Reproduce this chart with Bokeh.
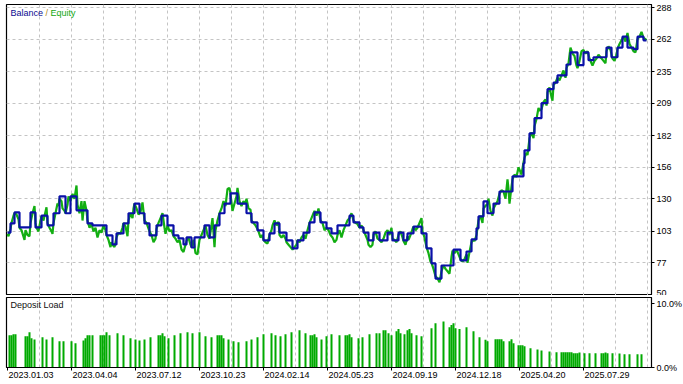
from bokeh.plotting import figure
from bokeh.layouts import column
from bokeh.models import Range1d, FixedTicker, Label, Grid
from bokeh.embed import file_html
from bokeh.resources import INLINE

# ---------------- data (x = deal number) ----------------
bal_deal = [0, 3, 7, 12, 23, 28, 34, 40, 46, 52, 58, 63, 69, 80, 85, 99, 105, 109, 116, 121,
            127, 132, 137, 142, 149, 154, 160, 166, 171, 176, 179, 184, 187, 197, 202, 207, 212, 217, 223, 230,
            239, 244, 250, 256, 262, 267, 272, 279, 285, 290, 296, 302, 307, 313, 319, 324, 330, 342, 346, 352,
            356, 361, 366, 372, 380, 385, 391, 396, 400, 406, 414, 419, 424, 428, 434, 446, 453, 459, 464, 469,
            471, 476, 480, 486, 492, 505, 516, 517, 522, 527, 534, 540, 546, 550, 559, 563, 570, 576, 581, 586,
            599, 604, 610, 615, 620, 626, 630, 636, 639]
balance = [102, 109.6, 118.7, 106.3, 118.7, 106.3, 116, 108, 118, 132, 118, 132, 120.4, 109.6, 108, 99.7, 92.2, 101.3, 109.6, 118,
           126, 118, 109.6, 99.7, 108, 116, 108, 99.7, 97.2, 92.2, 98, 89.7, 98, 108, 98, 108, 118, 126, 134.5, 126,
           118, 110.4, 103.8, 95.5, 101.3, 109.6, 102, 95.5, 89, 95.5, 102, 110.4, 118.7, 110.4, 105.5, 101.3, 108, 116, 110.4, 106.3,
           102, 95.5, 102, 95.5, 102, 95.5, 102, 95.5, 101.3, 107, 101.3, 89, 76.5, 64, 74.8, 88, 79, 86.4, 96.4, 105.5,
           115.4, 127.8, 118, 126, 136, 148.5, 159.3, 170, 184, 196.6, 209, 220.6, 226, 232, 241, 251, 240.4, 251, 244.6, 247,
           255, 247, 255, 264, 255, 253.7, 264, 261, 261]

eq_deal = [0, 1, 3, 4, 6, 7, 9, 11, 12, 14, 17, 18, 20, 22, 23, 25, 27, 28, 29, 31,
           33, 34, 36, 39, 40, 42, 44, 45, 46, 48, 50, 51, 52, 54, 55, 57, 58, 60, 61, 63,
           65, 67, 69, 70, 72, 74, 75, 77, 79, 80, 82, 84, 86, 88, 90, 92, 94, 96, 98, 99,
           101, 103, 104, 105, 107, 109, 111, 113, 115, 116, 118, 120, 121, 123, 125, 126, 127, 129, 131, 133,
           135, 137, 139, 142, 144, 146, 148, 149, 151, 153, 155, 157, 158, 160, 162, 164, 166, 168, 170, 172,
           174, 176, 178, 179, 181, 183, 184, 186, 188, 190, 192, 194, 196, 198, 200, 202, 204, 205, 207, 208,
           210, 212, 214, 216, 218, 220, 222, 223, 225, 227, 229, 230, 232, 234, 236, 238, 239, 241, 243, 244,
           246, 248, 250, 251, 253, 255, 256, 258, 260, 262, 264, 265, 267, 269, 271, 272, 274, 276, 278, 279,
           281, 283, 285, 287, 289, 290, 292, 294, 296, 298, 300, 302, 304, 306, 307, 309, 311, 313, 315, 317,
           319, 321, 323, 325, 327, 329, 330, 332, 334, 336, 338, 340, 342, 344, 346, 348, 350, 352, 354, 356,
           358, 360, 361, 363, 365, 366, 368, 370, 372, 374, 376, 378, 380, 382, 384, 385, 387, 389, 391, 393,
           395, 396, 398, 400, 401, 403, 405, 406, 408, 410, 412, 414, 415, 417, 419, 421, 423, 424, 426, 428,
           430, 432, 434, 436, 438, 440, 442, 444, 445, 447, 449, 451, 453, 455, 457, 459, 460, 462, 464, 466,
           467, 469, 470, 471, 473, 475, 476, 478, 480, 481, 483, 485, 486, 488, 490, 492, 494, 496, 498, 500,
           501, 502, 504, 505, 507, 509, 511, 513, 514, 516, 517, 519, 520, 522, 524, 526, 527, 529, 531, 532,
           534, 536, 538, 539, 540, 542, 544, 545, 546, 548, 550, 552, 554, 556, 558, 559, 561, 563, 565, 567,
           569, 570, 572, 574, 576, 578, 580, 582, 584, 585, 587, 589, 591, 593, 595, 598, 599, 601, 603, 605,
           607, 609, 610, 612, 614, 616, 618, 620, 622, 624, 626, 628, 630, 632, 634, 636, 638, 639]
equity = [101, 99, 105, 110, 116, 118, 117, 113, 106, 104, 96, 104, 100, 99, 110, 118, 124, 110, 106, 103,
          112, 116, 112, 123, 110, 106, 103, 101, 110, 118, 126, 124, 130, 128, 122, 120, 118, 125, 132, 128,
          134, 130, 141, 125, 118, 128, 112, 128, 120, 112, 106, 109, 103, 106, 98, 104, 102, 108, 104, 100,
          96, 90, 94, 92, 90, 98, 102, 101, 106, 110, 107, 99, 112, 118, 114, 122, 126, 122, 117, 119,
          127, 112, 110, 103, 100, 94, 97, 105, 110, 114, 118, 106, 101, 108, 103, 104, 99, 97, 94, 96,
          88, 86, 92, 95, 98, 92, 90, 96, 85, 84, 96, 100, 104, 108, 100, 97, 108, 114, 90, 104,
          112, 118, 122, 128, 124, 138, 139, 134, 120, 126, 132, 139, 128, 124, 128, 126, 130, 122, 121, 112,
          110, 108, 105, 103, 98, 100, 96, 94, 93, 100, 104, 108, 112, 108, 111, 100,
          98, 100, 97, 94, 92, 90, 88, 90, 92, 96, 94, 98, 100, 97, 104, 110, 114, 118, 120, 116,
          122, 112, 110, 104, 106, 104, 100, 98, 94, 96, 100, 104, 98, 104, 108, 112, 114, 118, 112, 110,
          109, 106, 108, 104, 100, 96, 92, 90, 92, 100, 103, 97, 96, 94, 97, 102, 104, 100, 106, 97,
          96, 94, 100, 103, 98, 95, 92, 99, 96, 100, 105, 107, 104, 106, 110, 114, 103, 98, 90, 85,
          78, 77, 72, 66, 64, 61, 70, 75, 72, 70, 68, 82, 87, 85, 88, 84, 80, 78, 80, 84,
          77, 86, 94, 96, 95, 100, 106, 112, 116, 110, 122, 124, 126, 130, 120, 116, 122, 125, 128, 134,
          137, 136, 130, 146, 138, 126, 140, 146, 150, 148, 156, 152, 150, 160, 164, 168, 166, 180, 185, 180,
          190, 196, 205, 203, 204, 210, 212, 207, 218, 222, 214, 211, 224, 226, 230, 228, 232, 236, 230, 238,
          242, 255, 250, 248, 240, 238, 244, 252, 253, 250, 252, 246, 242, 240, 244, 246, 249, 247, 245, 242,
          252, 256, 253, 246, 244, 249, 254, 258, 261, 264, 260, 267, 258, 255, 252, 251, 262, 264, 268, 263,
          262, 261]

load_deal = [2, 4, 6, 8, 18, 20, 22, 24, 27, 35, 39, 45, 52, 56, 64, 68, 76, 78, 80, 82,
             85, 93, 95, 97, 99, 102, 110, 116, 123, 128, 132, 137, 143, 151, 153, 155, 157, 161, 167, 173,
             180, 185, 192, 198, 204, 210, 212, 214, 216, 221, 226, 231, 239, 244, 250, 256, 264, 268, 273, 278,
             284, 292, 298, 303, 305, 307, 309, 314, 319, 324, 332, 338, 340, 342, 344, 351, 355, 362, 369, 372,
             376, 378, 381, 384, 389, 391, 393, 397, 400, 402, 404, 409, 414, 424, 428, 436, 442, 444, 446, 448,
             452, 459, 466, 472, 478, 480, 488, 490, 492, 494, 496, 502, 504, 506, 511, 513, 515, 517, 523, 530,
             534, 542, 549, 554, 556, 558, 560, 562, 564, 566, 568, 570, 572, 577, 582, 588, 594, 596, 598, 600,
             605, 612, 617, 622, 630, 634]
load_pct = [5.05, 5.05, 5.2, 5.2, 4.9, 4.9, 5.52, 4.58, 4.38, 4.74, 4.38, 4.74, 4.11, 4.11, 4.11, 3.8, 4.22, 4.58, 5.05, 5.05,
            5.05, 5.05, 5.05, 5.05, 5.52, 5.05, 5.36, 5.05, 4.58, 4.38, 4.22, 4.38, 4.74, 5.05, 5.05, 5.36, 4.9, 4.58, 5.05, 5.36,
            5.52, 5.36, 5.52, 4.9, 4.74, 5.05, 5.05, 5.05, 4.58, 4.38, 4.11, 3.96, 4.11, 4.38, 4.74, 5.2, 5.36, 5.05, 4.9, 5.2,
            5.52, 5.83, 5.36, 5.05, 5.05, 5.2, 4.74, 4.38, 4.9, 5.2, 5.05, 5.05, 5.05, 5.2, 4.74, 4.58, 4.74, 5.2, 5.36, 5.36,
            5.83, 5.83, 5.36, 5.05, 5.68, 6.0, 5.36, 5.2, 5.83, 6.0, 5.36, 5.05, 4.9, 6.15, 6.93, 7.19, 6.3, 6.66, 6.93, 6.15,
            6.0, 6.3, 5.68, 4.74, 4.32, 4.11, 4.43, 4.43, 4.43, 4.43, 4.11, 4.11, 4.43, 3.8, 3.49, 3.49, 3.49, 3.33, 3.02, 2.81,
            2.66, 2.5, 2.4, 2.4, 2.4, 2.4, 2.4, 2.4, 2.4, 2.24, 2.24, 2.24, 2.34, 2.24, 2.24, 2.24, 2.24, 2.24, 2.34, 2.24,
            2.24, 2.19, 2.08, 2.08, 2.08, 2.08]

date_ticks = [0, 64, 128, 192, 256, 320, 384, 448, 512, 576]
date_labels = ["2023.01.03", "2023.04.04", "2023.07.12", "2023.10.23", "2024.02.14",
               "2024.05.23", "2024.09.19", "2024.12.18", "2025.04.20", "2025.07.29"]
vgrid_ticks = [32, 64, 96, 128, 160, 192, 224, 256, 288, 320, 352, 384, 416, 448, 480, 512, 544, 576, 608, 640]
bal_ticks = [50, 77, 103, 130, 156, 182, 209, 235, 262, 288]
load_ticks = [0, 10]
load_labels = ["0.0%", "10.0%"]

# ---------------- style ----------------
FONT = "Liberation Sans"
FS = "9px"
BLUE = "#0a10a8"
GREEN = "#12ae12"
BAR_GREEN = "#00aa00"
GRID = "#c4c4c4"
LABEL_SHIFT = 23.5   # date labels start just right of their tick (left-aligned look)


def style_axis(ax):
    ax.axis_line_color = "black"
    ax.major_tick_line_color = "black"
    ax.minor_tick_line_color = None
    ax.major_tick_out = 3
    ax.major_tick_in = 0
    ax.major_label_standoff = 2
    ax.major_label_text_font = FONT
    ax.major_label_text_font_size = FS
    ax.major_label_text_color = "black"


x_range = Range1d(-1, 644)

top = figure(frame_width=645, frame_height=291, min_border_left=6, min_border_right=32,
             min_border_top=4, min_border_bottom=0, x_range=x_range, y_range=Range1d(50, 290.6),
             x_axis_location=None, y_axis_location="right", output_backend="svg",
             toolbar_location=None, background_fill_color="white", border_fill_color="white",
             outline_line_color="black", outline_line_width=1.2)
for g in top.grid:
    g.visible = False
top.add_layout(Grid(dimension=0, ticker=FixedTicker(ticks=vgrid_ticks), grid_line_color=GRID,
                    grid_line_dash="3 3"), "center")
top.add_layout(Grid(dimension=1, ticker=FixedTicker(ticks=bal_ticks), grid_line_color=GRID,
                    grid_line_dash="3 3"), "center")
yax = top.yaxis[0]
yax.ticker = FixedTicker(ticks=bal_ticks)
style_axis(yax)

top.line(eq_deal, equity, line_color=GREEN, line_width=2.2)
top.step(bal_deal, balance, mode="after", line_color=BLUE, line_width=2.2)

for txt, xx, col in [("Balance", 3, "#0a0a90"), ("/", 38, "#b08a10"), ("Equity", 43, "#10a810")]:
    top.add_layout(Label(x=xx, y=283.5, text=txt, text_font=FONT, text_font_size=FS,
                         text_color=col, text_align="left", text_baseline="middle"))

bot = figure(frame_width=645, frame_height=70, min_border_left=6, min_border_right=32,
             min_border_top=2, min_border_bottom=17, x_range=x_range, y_range=Range1d(0, 10.94),
             x_axis_location="below", y_axis_location="right", output_backend="svg",
             toolbar_location=None, background_fill_color="white", border_fill_color="white",
             outline_line_color="black", outline_line_width=1.2)
for g in bot.grid:
    g.visible = False
bot.add_layout(Grid(dimension=0, ticker=FixedTicker(ticks=vgrid_ticks), grid_line_color=GRID,
                    grid_line_dash="3 3"), "center")

# date axis: tick marks at the dates (as minor ticks), labels set just to their right
label_pos = [t + LABEL_SHIFT for t in date_ticks]
xax = bot.xaxis[0]
style_axis(xax)
xax.ticker = FixedTicker(ticks=label_pos, minor_ticks=date_ticks)
xax.major_label_overrides = {p: l for p, l in zip(label_pos, date_labels)}
xax.major_tick_line_color = None
xax.minor_tick_line_color = "black"
xax.minor_tick_out = 3
xax.minor_tick_in = 0
xax.major_label_standoff = 1

yb = bot.yaxis[0]
yb.ticker = FixedTicker(ticks=load_ticks)
yb.major_label_overrides = {t: l for t, l in zip(load_ticks, load_labels)}
style_axis(yb)

bot.vbar(x=load_deal, top=load_pct, bottom=0, width=2, fill_color=BAR_GREEN, line_color=None)
bot.add_layout(Label(x=3, y=9.7, text="Deposit Load", text_font=FONT, text_font_size=FS,
                     text_color="#101010", text_align="left", text_baseline="middle"))

layout = column(top, bot, spacing=0)
open("out.html", "w").write(file_html(layout, INLINE))
